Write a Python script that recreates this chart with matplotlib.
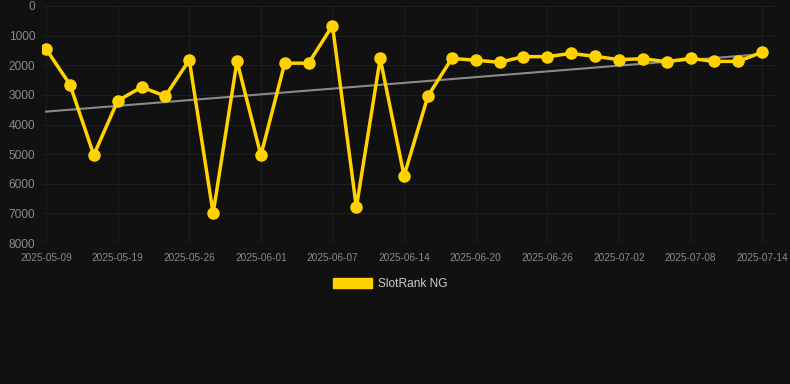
import numpy as np
import matplotlib
matplotlib.use("Agg")
import matplotlib.pyplot as plt
from matplotlib.patches import Patch

dates = ["2025-05-09", "2025-05-12", "2025-05-16", "2025-05-19", "2025-05-21", "2025-05-24",
         "2025-05-26", "2025-05-28", "2025-05-30", "2025-06-01", "2025-06-03", "2025-06-05",
         "2025-06-07", "2025-06-09", "2025-06-12", "2025-06-14", "2025-06-16", "2025-06-18",
         "2025-06-20", "2025-06-22", "2025-06-24", "2025-06-26", "2025-06-28", "2025-06-30",
         "2025-07-02", "2025-07-04", "2025-07-06", "2025-07-08", "2025-07-10", "2025-07-12",
         "2025-07-14"]
rank = [1450, 2650, 5030, 3200, 2740, 3040, 1820, 7000, 1860, 5040, 1930, 1930, 660, 6800,
        1770, 5730, 3040, 1770, 1830, 1900, 1710, 1710, 1600, 1700, 1810, 1780, 1880, 1770,
        1870, 1870, 1560]
series_name = "SlotRank NG"
y_ticks = [0, 1000, 2000, 3000, 4000, 5000, 6000, 7000, 8000]

BG = "#111111"
GOLD = "#FFD200"
plt.rcParams['font.family'] = ['Liberation Sans', 'DejaVu Sans']

fig = plt.figure(figsize=(7.9, 3.84), dpi=100, facecolor=BG)
ax = fig.add_axes([42/790, 1 - 243/384, (775 - 42)/790, (243 - 6)/384])
ax.set_facecolor(BG)

x = np.arange(len(rank))
# trend line (linear regression)
coef = np.polyfit(x, rank, 1)
ax.plot(x, np.polyval(coef, x), color="#8a8a8a", lw=1.5, zorder=2)

ax.plot(x, rank, color=GOLD, lw=2.5, marker="o", markersize=8, markerfacecolor=GOLD,
        markeredgecolor=GOLD, solid_joinstyle="miter", zorder=3)

ax.set_ylim(8000, 0)
ax.set_xlim(-0.17, 30.54)
ax.set_yticks(y_ticks)
ax.set_yticklabels([str(v) for v in y_ticks], fontsize=8.6, color="#8a8a8a")
tick_idx = list(range(0, len(dates), 3))
ax.set_xticks(tick_idx)
ax.set_xticklabels([dates[i] for i in tick_idx], fontsize=7.2, color="#8a8a8a")
ax.tick_params(axis="both", length=0, pad=5)
ax.tick_params(axis="x", pad=7)
ax.grid(True, color="#1d1d1d", lw=0.8)
for s in ax.spines.values():
    s.set_visible(False)
ax.axhline(8000, color="#2a2a2a", lw=1, zorder=1)

handle = Patch(facecolor=GOLD, edgecolor=GOLD)
leg = fig.legend([handle], [series_name], loc="center", bbox_to_anchor=(390/790, 1 - 284/384),
                 frameon=False, fontsize=8.6, handlelength=3.3, handleheight=0.9,
                 handletextpad=0.5)
for t in leg.get_texts():
    t.set_color("#cccccc")

fig.savefig("out.png", dpi=100, facecolor=BG)
